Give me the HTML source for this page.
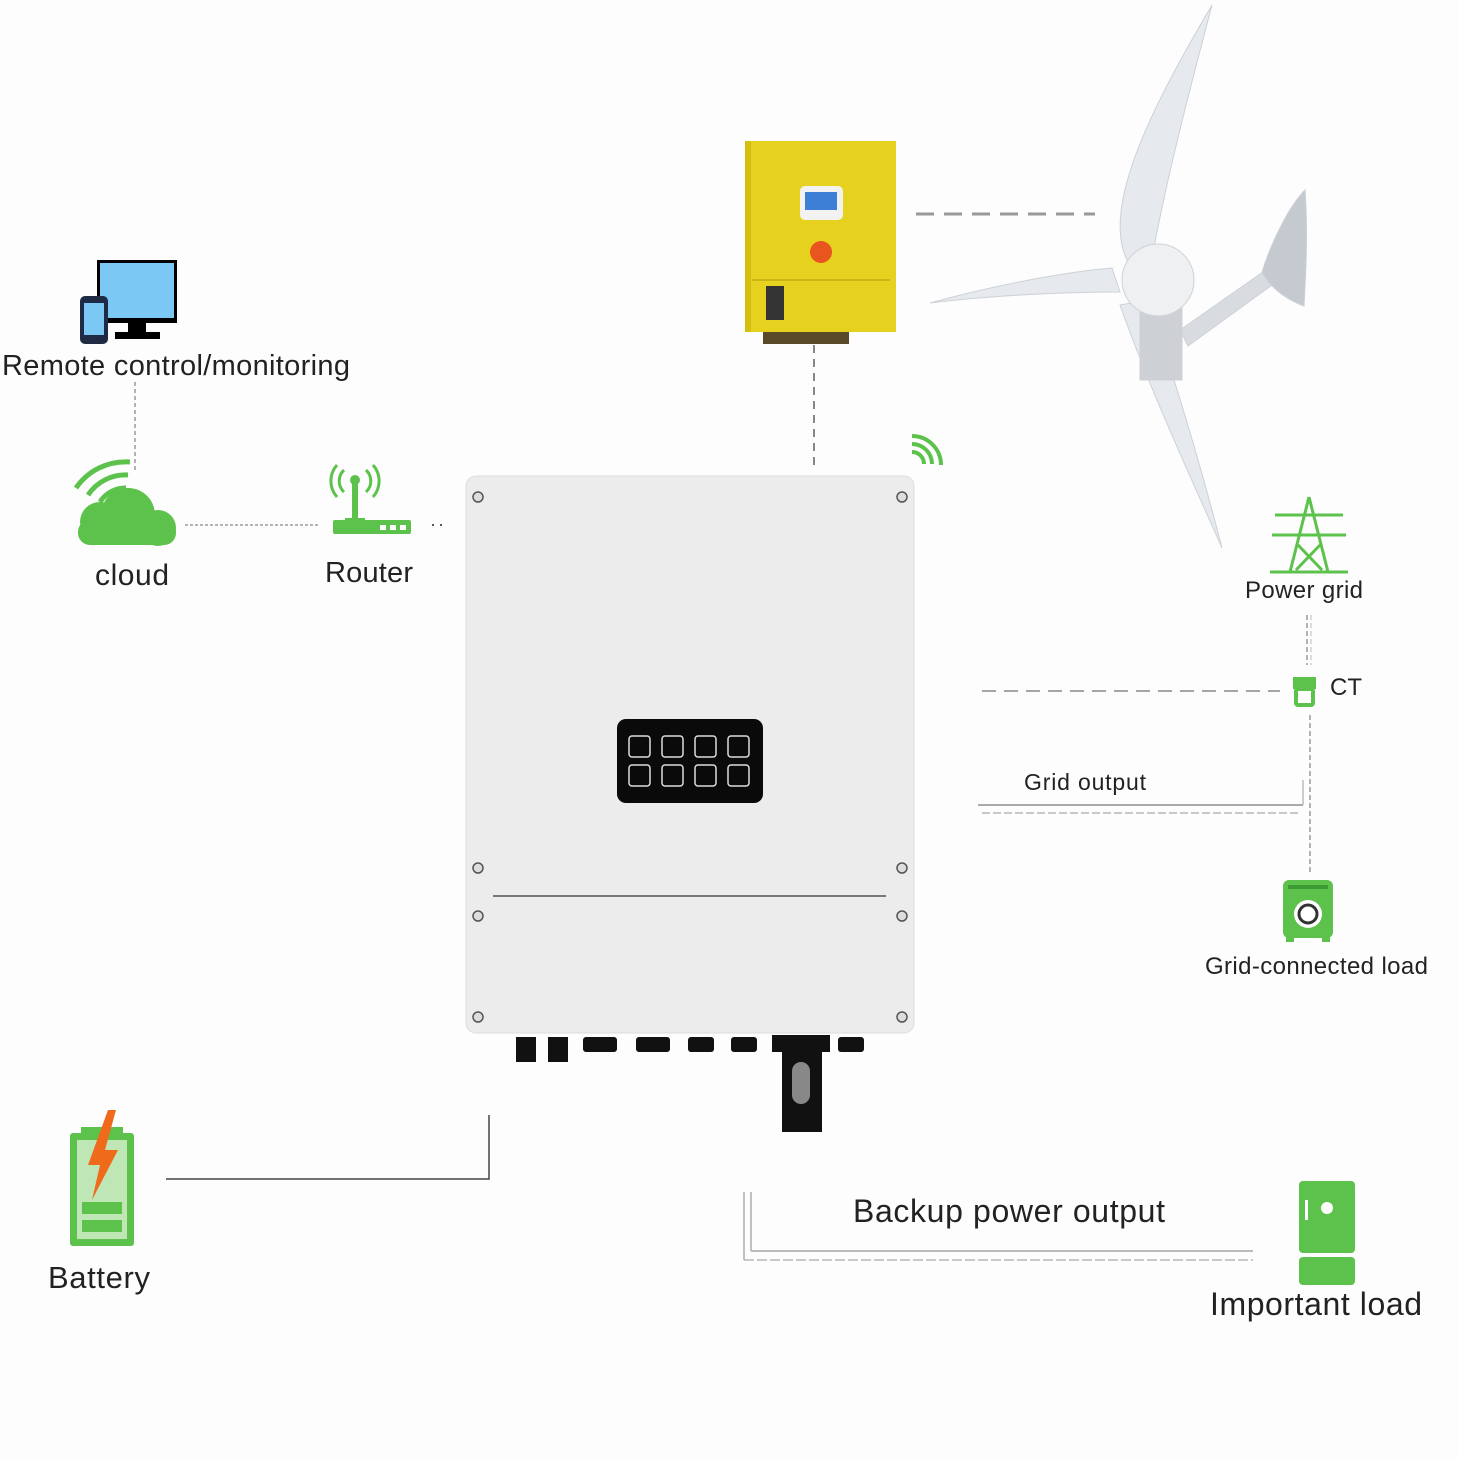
<!DOCTYPE html>
<html><head><meta charset="utf-8"><style>
html,body{margin:0;padding:0;background:#fdfdfd;}
svg{display:block}
text{font-family:"Liberation Sans",sans-serif;fill:#222}
</style></head><body>
<svg width="1458" height="1458" viewBox="0 0 1458 1458" xmlns="http://www.w3.org/2000/svg">
<rect width="1458" height="1458" fill="#fdfdfd"/>
<!-- monitor -->
<rect x="97" y="260" width="80" height="63" fill="#000"/>
<rect x="100" y="263" width="74" height="55" fill="#7cc8f5"/>
<rect x="128" y="323" width="18" height="10" fill="#000"/>
<rect x="115" y="332" width="45" height="7" fill="#000"/>
<rect x="80" y="296" width="28" height="48" rx="5" fill="#1f2a44"/>
<rect x="84" y="303" width="20" height="32" fill="#7cc8f5"/>
<text x="2" y="375" font-size="29" textLength="348">Remote control/monitoring</text>
<line x1="135" y1="382" x2="135" y2="470" stroke="#999" stroke-width="1.5" stroke-dasharray="4 3"/>
<!-- cloud -->
<g fill="#5cc24c">
<circle cx="128" cy="515" r="27"/><circle cx="100" cy="522" r="20"/><circle cx="158" cy="528" r="18"/>
<rect x="78" y="520" width="98" height="25" rx="12"/>
</g>
<g fill="none" stroke="#5cc24c" stroke-width="5">
<path d="M76 488 A60 60 0 0 1 130 462"/><path d="M88 495 A45 45 0 0 1 128 475"/><path d="M100 502 A30 30 0 0 1 126 488"/>
</g>
<text x="95" y="585" font-size="30" textLength="74">cloud</text>
<line x1="185" y1="525" x2="318" y2="525" stroke="#888" stroke-width="1.2" stroke-dasharray="3 2"/>
<!-- router -->
<g fill="#5cc24c">
<rect x="352" y="478" width="6" height="40"/>
<path d="M345 518 h20 v4 h-20z"/>
<rect x="333" y="520" width="78" height="14" rx="2"/>
<circle cx="355" cy="480" r="5"/>
</g>
<g fill="none" stroke="#5cc24c" stroke-width="3">
<path d="M344 470 A15 15 0 0 0 344 492"/><path d="M366 470 A15 15 0 0 1 366 492"/>
<path d="M337 465 A24 24 0 0 0 337 497"/><path d="M373 465 A24 24 0 0 1 373 497"/>
</g>
<rect x="380" y="525" width="6" height="5" fill="#fff"/><rect x="390" y="525" width="6" height="5" fill="#fff"/><rect x="400" y="525" width="6" height="5" fill="#fff"/>
<text x="325" y="582" font-size="29" textLength="88">Router</text>
<line x1="432" y1="525" x2="444" y2="525" stroke="#555" stroke-width="2" stroke-dasharray="2 6"/>
<!-- yellow controller -->
<rect x="745" y="141" width="151" height="191" fill="#e6d21e"/>
<rect x="745" y="141" width="6" height="191" fill="#d4bf10"/>
<line x1="752" y1="280" x2="890" y2="280" stroke="#c9b515" stroke-width="2"/>
<rect x="800" y="186" width="43" height="34" rx="5" fill="#f2f2f2"/>
<rect x="805" y="192" width="32" height="18" fill="#3d7fd6"/>
<circle cx="821" cy="252" r="11" fill="#e8551e"/>
<rect x="766" y="286" width="18" height="34" fill="#333"/>
<rect x="763" y="332" width="86" height="12" fill="#5a4a2a"/>
<line x1="814" y1="345" x2="814" y2="465" stroke="#888" stroke-width="2" stroke-dasharray="8 6"/>
<line x1="916" y1="214" x2="1095" y2="214" stroke="#999" stroke-width="3" stroke-dasharray="18 10"/>
<!-- wind turbine -->
<g fill="#e6e9ed" stroke="#cdd1d6" stroke-width="1">
<path d="M1180 330 L1280 260 L1290 272 L1188 346Z" fill="#d8dce1"/>
<path d="M1262 272 C1272 240 1290 205 1305 190 C1308 230 1306 270 1304 306 C1288 300 1272 290 1262 272Z" fill="#c5cad0"/>
<path d="M1128 262 C1100 210 1150 110 1212 5 C1195 70 1168 170 1152 258Z"/>
<path d="M1120 292 C1060 292 985 296 930 303 C995 285 1065 272 1112 268Z"/>
<path d="M1148 300 C1175 380 1202 470 1222 548 C1192 480 1150 390 1120 305Z"/>
<rect x="1140" y="300" width="42" height="80" fill="#cdd1d6"/>
<ellipse cx="1158" cy="280" rx="36" ry="36" fill="#eef0f2"/>
</g>
<g fill="none" stroke="#5cc24c" stroke-width="4">
<path d="M912 452 A12 12 0 0 1 924 464"/><path d="M912 444 A20 20 0 0 1 932 464"/><path d="M912 436 A29 29 0 0 1 941 465"/>
</g>
<!-- inverter -->
<rect x="466" y="476" width="448" height="557" rx="10" fill="#ececec" stroke="#ddd"/>
<line x1="493" y1="896" x2="886" y2="896" stroke="#777" stroke-width="2"/>
<g fill="#ddd" stroke="#555" stroke-width="1.5">
<circle cx="478" cy="497" r="5"/><circle cx="902" cy="497" r="5"/><circle cx="478" cy="868" r="5"/><circle cx="902" cy="868" r="5"/>
<circle cx="478" cy="916" r="5"/><circle cx="902" cy="916" r="5"/><circle cx="478" cy="1017" r="5"/><circle cx="902" cy="1017" r="5"/>
</g>
<rect x="617" y="719" width="146" height="84" rx="9" fill="#0a0a0a"/>
<g fill="none" stroke="#ddd" stroke-width="1.5">
<rect x="629" y="736" width="21" height="21" rx="3"/><rect x="662" y="736" width="21" height="21" rx="3"/><rect x="695" y="736" width="21" height="21" rx="3"/><rect x="728" y="736" width="21" height="21" rx="3"/>
<rect x="629" y="765" width="21" height="21" rx="3"/><rect x="662" y="765" width="21" height="21" rx="3"/><rect x="695" y="765" width="21" height="21" rx="3"/><rect x="728" y="765" width="21" height="21" rx="3"/>
</g>
<g fill="#111">
<rect x="516" y="1037" width="20" height="25"/><rect x="548" y="1037" width="20" height="25"/>
<rect x="583" y="1037" width="34" height="15" rx="3"/><rect x="636" y="1037" width="34" height="15" rx="3"/>
<rect x="688" y="1037" width="26" height="15" rx="3"/><rect x="731" y="1037" width="26" height="15" rx="3"/>
<rect x="772" y="1035" width="58" height="17"/><rect x="782" y="1035" width="40" height="97"/>
<rect x="838" y="1037" width="26" height="15" rx="3"/>
</g>
<rect x="792" y="1062" width="18" height="42" rx="9" fill="#888"/>
<!-- power grid -->
<g stroke="#5cc24c" stroke-width="3" fill="none">
<path d="M1309 497 L1290 572 M1309 497 L1328 572 M1275 515 L1343 515 M1272 535 L1346 535 M1298 545 L1322 570 M1320 545 L1296 570 M1270 572 H1348"/>
</g>
<text x="1245" y="598" font-size="24" textLength="118">Power grid</text>
<line x1="1307" y1="615" x2="1307" y2="665" stroke="#999" stroke-width="1.5" stroke-dasharray="5 3"/>
<line x1="1311" y1="615" x2="1311" y2="665" stroke="#bbb" stroke-width="1" stroke-dasharray="5 3"/>
<rect x="1293" y="677" width="23" height="12" fill="#5cc24c"/>
<rect x="1296" y="689" width="17" height="16" rx="2" fill="none" stroke="#5cc24c" stroke-width="4"/>
<text x="1330" y="695" font-size="24">CT</text>
<line x1="982" y1="691" x2="1280" y2="691" stroke="#888" stroke-width="1.5" stroke-dasharray="14 8"/>
<line x1="1310" y1="715" x2="1310" y2="875" stroke="#999" stroke-width="1.5" stroke-dasharray="5 3"/>
<text x="1024" y="790" font-size="23" textLength="122">Grid output</text>
<line x1="978" y1="805" x2="1303" y2="805" stroke="#aaa" stroke-width="2"/>
<line x1="982" y1="813" x2="1300" y2="813" stroke="#aaa" stroke-width="1.2" stroke-dasharray="8 3"/>
<line x1="1303" y1="805" x2="1303" y2="780" stroke="#bbb" stroke-width="1.5"/>
<!-- washer -->
<rect x="1283" y="880" width="50" height="58" rx="6" fill="#5cc24c"/>
<rect x="1286" y="937" width="8" height="5" fill="#5cc24c"/><rect x="1322" y="937" width="8" height="5" fill="#5cc24c"/>
<rect x="1288" y="885" width="40" height="4" fill="#3e9a32"/>
<circle cx="1308" cy="914" r="14" fill="#fff"/><circle cx="1308" cy="914" r="9" fill="none" stroke="#333" stroke-width="3"/>
<text x="1205" y="974" font-size="24" textLength="223">Grid-connected load</text>
<!-- battery -->
<rect x="81" y="1127" width="42" height="10" fill="#5cc24c"/>
<rect x="70" y="1133" width="64" height="113" rx="3" fill="#5cc24c"/>
<rect x="77" y="1140" width="50" height="99" fill="#bfe6b5"/>
<rect x="82" y="1202" width="40" height="12" fill="#5cc24c"/><rect x="82" y="1220" width="40" height="12" fill="#5cc24c"/>
<path d="M108 1110 L88 1165 L100 1165 L92 1200 L118 1150 L105 1150 L116 1110Z" fill="#f06a1c"/>
<text x="48" y="1288" font-size="31" textLength="102">Battery</text>
<polyline points="166,1179 489,1179 489,1115" fill="none" stroke="#444" stroke-width="1.5"/>
<!-- backup -->
<line x1="744" y1="1192" x2="744" y2="1260" stroke="#999" stroke-width="1.2"/>
<line x1="751" y1="1192" x2="751" y2="1251" stroke="#999" stroke-width="1.2"/>
<line x1="751" y1="1251" x2="1253" y2="1251" stroke="#bbb" stroke-width="2"/>
<line x1="744" y1="1260" x2="1253" y2="1260" stroke="#aaa" stroke-width="1.2" stroke-dasharray="10 3"/>
<text x="853" y="1222" font-size="32" textLength="312">Backup power output</text>
<!-- fridge -->
<rect x="1299" y="1181" width="56" height="72" rx="4" fill="#5cc24c"/>
<rect x="1299" y="1257" width="56" height="28" rx="4" fill="#5cc24c"/>
<rect x="1305" y="1200" width="3" height="20" fill="#fff"/>
<circle cx="1327" cy="1208" r="6" fill="#fff"/>
<text x="1210" y="1315" font-size="32" textLength="212">Important load</text>
</svg>
</body></html>
